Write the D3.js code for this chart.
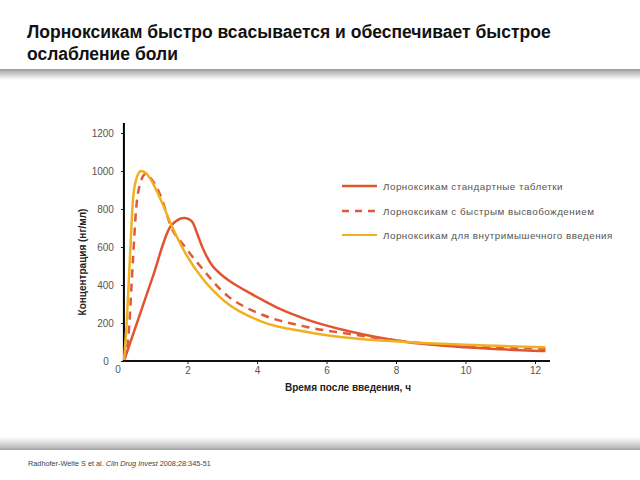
<!DOCTYPE html>
<html><head><meta charset="utf-8">
<script src="https://cdn.jsdelivr.net/npm/d3@7"></script>
<style>body{margin:0;background:#fff;}svg{display:block;font-family:"Liberation Sans",Arial,sans-serif;}</style>
</head><body>
<script>
const titleLines = ["Лорноксикам быстро всасывается и обеспечивает быстрое", "ослабление боли"];
const seriesNames = ["Лорноксикам стандартные таблетки", "Лорноксикам с быстрым высвобождением", "Лорноксикам для внутримышечного введения"];
const xTicks = [0, 2, 4, 6, 8, 10, 12];
const yTicks = [0, 200, 400, 600, 800, 1000, 1200];
const tStandard = [0.17, 0.5, 1.0, 1.5, 1.7, 1.9, 2.05, 2.16, 2.27, 2.42, 2.56, 2.7, 2.85, 3.0, 3.22, 3.5, 3.8, 4.17, 4.66, 5.44, 6.68, 8.3, 10.0, 11.2, 12.3];
const vStandard = [0, 176, 443, 705, 740, 752, 745, 726, 675, 602, 548, 505, 475, 450, 420, 388, 357, 320, 274, 218, 155, 100, 72, 60, 52];
const tFast = [0.17, 0.3, 0.43, 0.52, 0.65, 0.8, 0.95, 1.24, 1.53, 1.93, 2.5, 2.94, 3.17, 3.6, 4.17, 5.44, 6.68, 8.3, 10.0, 12.3];
const vFast = [0, 130, 531, 795, 940, 985, 960, 863, 705, 600, 470, 378, 340, 290, 242, 179, 142, 102, 80, 65];
const tIM = [0.17, 0.25, 0.34, 0.43, 0.52, 0.66, 0.8, 0.95, 1.24, 1.53, 1.93, 2.5, 2.94, 3.17, 4.17, 5.44, 6.68, 8.3, 10.0, 12.3];
const vIM = [0, 200, 531, 847, 953, 1000, 990, 953, 845, 718, 570, 418, 335, 300, 205, 153, 121, 100, 85, 72];
const source = ["Radhofer-Welte S et al. ", "Clin Drug Invest", " 2008;28:345-51"];

const W = 640, H = 480;
const svg = d3.select("body").append("svg").attr("width", W).attr("height", H);
const defs = svg.append("defs");
const g1 = defs.append("linearGradient").attr("id","shadeTop").attr("x1",0).attr("y1",0).attr("x2",0).attr("y2",1);
g1.append("stop").attr("offset","0%").attr("stop-color","#9a9a9a");
g1.append("stop").attr("offset","25%").attr("stop-color","#b8b8b8");
g1.append("stop").attr("offset","100%").attr("stop-color","#ffffff");
const g2 = defs.append("linearGradient").attr("id","shadeBot").attr("x1",0).attr("y1",0).attr("x2",0).attr("y2",1);
g2.append("stop").attr("offset","0%").attr("stop-color","#ffffff");
g2.append("stop").attr("offset","75%").attr("stop-color","#c4c4c4");
g2.append("stop").attr("offset","100%").attr("stop-color","#a0a0a0");

// title
svg.selectAll("text.title").data(titleLines).join("text").attr("class","title")
  .attr("x", 27).attr("y", (d,i) => 38 + i*22)
  .attr("font-size", 17.5).attr("font-weight","bold").attr("fill","#111").text(d => d);
svg.append("rect").attr("x",0).attr("y",69).attr("width",W).attr("height",11).attr("fill","url(#shadeTop)");
svg.append("rect").attr("x",0).attr("y",437).attr("width",W).attr("height",13).attr("fill","url(#shadeBot)");

const x = d3.scaleLinear().domain([0, 12]).range([118, 535]);
const y = d3.scaleLinear().domain([0, 1200]).range([361, 133]);
const x0 = x(0.17);

// axes
const axX = svg.append("g").attr("transform", `translate(0,${y(0)})`)
  .call(d3.axisBottom(x).tickValues(xTicks.filter(d => d > 0)).tickFormat(d3.format("d")).tickSize(3).tickPadding(3));
axX.select(".domain").remove();
axX.selectAll("text").attr("font-size", 10).attr("fill","#555").attr("font-family","Liberation Sans, Arial, sans-serif");
axX.selectAll("line").attr("stroke","#222");
svg.append("text").attr("x", x(0)).attr("y", 373).attr("text-anchor","middle").attr("font-size",10).attr("fill","#555").text(xTicks[0]);

const axY = svg.append("g").attr("transform", `translate(${x0},0)`)
  .call(d3.axisLeft(y).tickValues(yTicks).tickFormat(d3.format("d")).tickSize(3).tickPadding(7));
axY.select(".domain").remove();
axY.selectAll("text").attr("font-size", 10).attr("fill","#555").attr("font-family","Liberation Sans, Arial, sans-serif");
axY.selectAll("line").attr("stroke","#222");
axY.selectAll(".tick").filter(d => d === 0).select("text").attr("dx", -5);

svg.append("line").attr("x1", x0).attr("x2", x0).attr("y1", 123).attr("y2", y(0)+1).attr("stroke","#000").attr("stroke-width",2);

// series
const line = d3.line().x(d => x(d[0])).y(d => y(d[1])).curve(d3.curveMonotoneX);
const series = [
  {t: tStandard, v: vStandard, color: "#E0552F", dash: null, w: 2.5},
  {t: tFast, v: vFast, color: "#E05A38", dash: "8,6", w: 2.5},
  {t: tIM, v: vIM, color: "#F0B020", dash: null, w: 2.5}
];
series.forEach(s => {
  svg.append("path").datum(s.t.map((t,i) => [t, s.v[i]]))
    .attr("d", line).attr("fill","none").attr("stroke", s.color)
    .attr("stroke-width", s.w).attr("stroke-dasharray", s.dash);
});

svg.append("line").attr("x1", x0-1).attr("x2", 550).attr("y1", y(0)).attr("y2", y(0)).attr("stroke","#111").attr("stroke-width",2);

// axis titles
svg.append("text").attr("transform", `translate(86,262) rotate(-90)`).attr("text-anchor","middle")
  .attr("font-size",10).attr("font-weight","bold").attr("fill","#222").text("Концентрация (нг/мл)");
svg.append("text").attr("x", 348).attr("y", 391).attr("text-anchor","middle")
  .attr("font-size",10).attr("font-weight","bold").attr("fill","#222").text("Время после введения, ч");

// legend
const legY = [186, 211, 235];
const legW = [2.5, 2.5, 1.8];
series.forEach((s,i) => {
  svg.append("line").attr("x1",342).attr("x2",377).attr("y1",legY[i]).attr("y2",legY[i])
    .attr("stroke", s.color).attr("stroke-width", legW[i]).attr("stroke-dasharray", s.dash ? "7,6" : null);
  svg.append("text").attr("x",383).attr("y",legY[i]+3.5).attr("font-size",9.8).attr("letter-spacing",0.5).attr("fill","#555").text(seriesNames[i]);
});

// source
const src = svg.append("text").attr("x",28).attr("y",466).attr("font-size",7.3).attr("fill","#444");
src.selectAll("tspan").data(source).join("tspan").attr("font-style",(d,i) => i===1 ? "italic" : null).text(d => d);
</script>
</body></html>
